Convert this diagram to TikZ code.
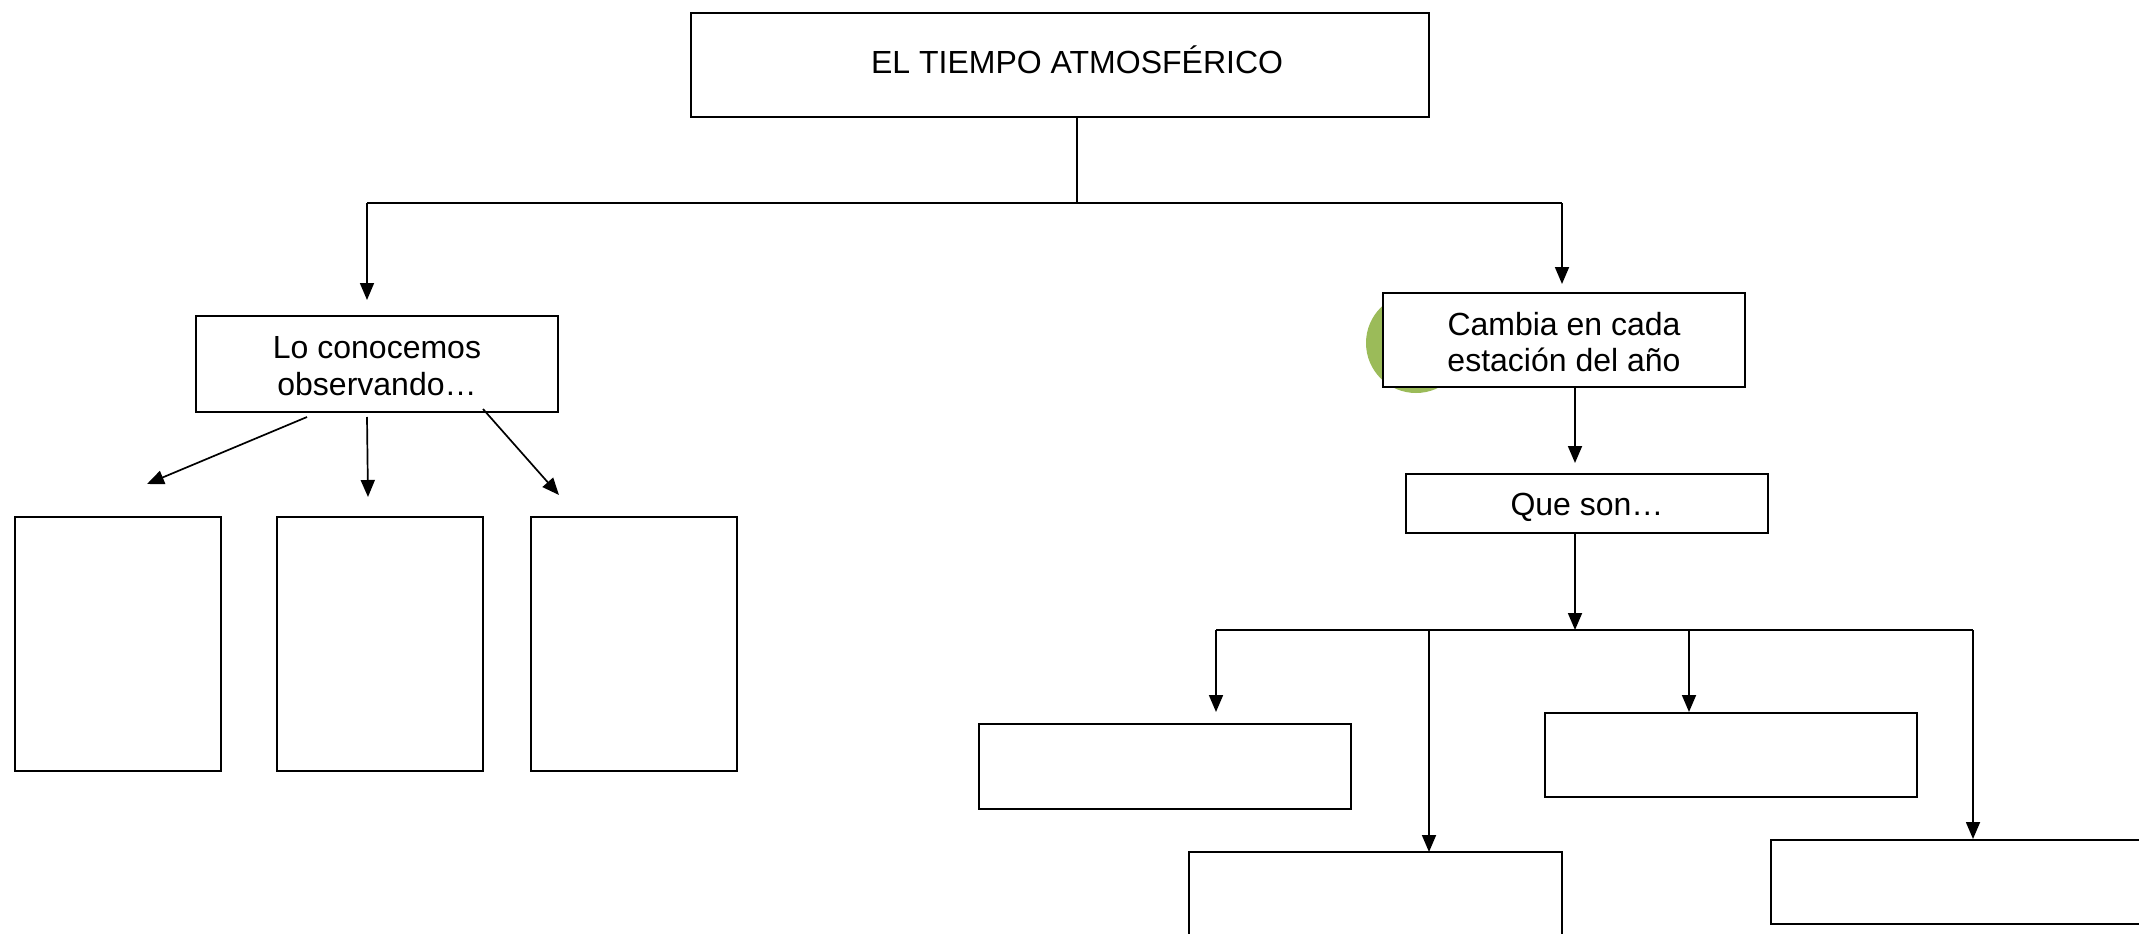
\documentclass[tikz,border=0pt]{standalone}
\usepackage{fontspec}
\setmainfont{Liberation Sans}
\usetikzlibrary{arrows.meta}
\definecolor{olivegreen}{HTML}{9BBB59}
\tikzset{
  box/.style={draw, line width=2.2pt, fill=white, inner sep=0pt, outer sep=0pt, anchor=north west},
  txt/.style={font=\fontsize{32}{36.8}\selectfont, align=center},
  conn/.style={line width=1.7pt},
  arr/.style={conn, -{Triangle[length=17pt,width=14pt]}}
}
\begin{document}
\begin{tikzpicture}[x=1pt,y=-1pt]
\useasboundingbox (0,0) rectangle (2139,934);
\clip (0,0) rectangle (2139,934);
\fill[white] (0,0) rectangle (2139,934);

% title
\node[box, minimum width=738pt, minimum height=104pt] (title) at (691,13) {};
\node[txt, anchor=base] (ttl) at (1077,74) {EL TIEMPO ATMOSFÉRICO};

% left branch
\node[box, minimum width=362pt, minimum height=96pt] (lo) at (196,316) {};
\node[txt, yshift=-2pt] (lotxt) at (lo.center) {Lo conocemos\\observando…};
\node[box, minimum width=206pt, minimum height=254pt] (b1) at (15,517) {};
\node[box, minimum width=206pt, minimum height=254pt] (b2) at (277,517) {};
\node[box, minimum width=206pt, minimum height=254pt] (b3) at (531,517) {};

% right branch
\fill[olivegreen] (1416,343) circle[radius=50pt];
\node[box, minimum width=362pt, minimum height=94pt] (cambia) at (1383,293) {};
\node[txt, yshift=-2pt] (cambiatxt) at (cambia.center) {Cambia en cada\\estación del año};
\node[box, minimum width=362pt, minimum height=59pt] (que) at (1406,474) {};
\node[txt, yshift=-4pt] (quetxt) at (que.center) {Que son…};
\node[box, minimum width=372pt, minimum height=85pt] (ba) at (979,724) {};
\node[box, minimum width=372pt, minimum height=84pt] (bb) at (1545,713) {};
\node[box, minimum width=373pt, minimum height=160pt] (bc) at (1189,852) {};
\node[box, minimum width=420pt, minimum height=84pt] (bd) at (1771,840) {};

% junction coordinates
\coordinate (j1) at (1077,203);
\coordinate (jL) at (367,203);
\coordinate (jR) at (1562,203);
\coordinate (tL) at (367,300);
\coordinate (tR) at (1562,284);
\coordinate (s1) at (307,417);
\coordinate (t1) at (147,484);
\coordinate (s2) at (367,417);
\coordinate (t2) at (368,497);
\coordinate (s3) at (483,409);
\coordinate (t3) at (559,495);
\coordinate (c1) at (1575,463);
\coordinate (q1) at (1575,630);
\coordinate (hL) at (1216,630);
\coordinate (hR) at (1973,630);
\coordinate (hA) at (1216,712);
\coordinate (hC0) at (1429,630);
\coordinate (hC) at (1429,852);
\coordinate (hB0) at (1689,630);
\coordinate (hB) at (1689,712);
\coordinate (hD) at (1973,839);

% connectors top
\draw[conn] (title.south -| j1) -- (j1);
\draw[conn] (jL) -- (jR);
\draw[arr] (jL) -- (tL);
\draw[arr] (jR) -- (tR);

% connectors from Lo conocemos
\draw[arr] (s1) -- (t1);
\draw[arr] (s2) -- (t2);
\draw[arr] (s3) -- (t3);

% connectors right
\draw[arr] (cambia.south -| c1) -- (c1);
\draw[arr] (que.south -| q1) -- (q1);
\draw[conn] (hL) -- (hR);
\draw[arr] (hL) -- (hA);
\draw[arr] (hC0) -- (hC);
\draw[arr] (hB0) -- (hB);
\draw[arr] (hR) -- (hD);
\end{tikzpicture}
\end{document}
